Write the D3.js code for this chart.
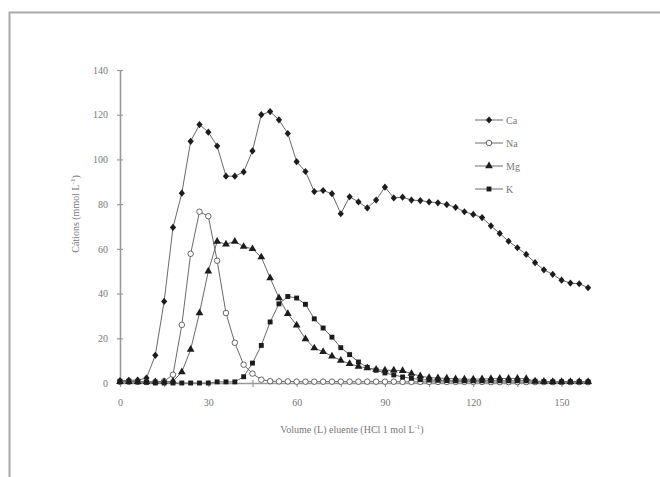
<!DOCTYPE html>
<html><head><meta charset="utf-8">
<script src="https://cdn.jsdelivr.net/npm/d3@7"></script>
<style>body{margin:0;background:#fff}svg{display:block}</style>
</head><body>
<svg id="c" width="660" height="477"></svg>
<script>
const volume = [0,3,6,9,12,15,18,21,24,27,30,33,36,39,42,45,48,51,54,57,60,63,66,69,72,75,78,81,84,87,90,93,96,99,102,105,108,111,114,117,120,123,126,129,132,135,138,141,144,147,150,153,156,159];
const ca = [1,1.2,1.3,2.2,12.4,36.5,69.6,84.9,108.1,115.6,112.2,106,92.5,92.5,94.4,103.8,120,121.4,117.7,111.6,99,94.6,85.6,86.1,84.7,75.7,83.3,81,78.3,81.8,87.6,82.8,83.1,81.8,81.6,81,80.6,79.8,78.6,76.6,75.4,74,70.3,66.9,63.4,60.5,57.5,53.8,50.6,48.6,46,44.7,44.4,42.6];
const na = [0.5,0.5,0.5,0.5,0.5,0.8,3.7,26,57.8,76.6,74.6,54.7,31.3,18,8.2,4.2,1.5,0.8,0.7,0.7,0.6,0.6,0.6,0.6,0.6,0.6,0.6,0.6,0.6,0.6,0.6,0.6,0.5,0.5,0.5,0.5,0.5,0.5,0.5,0.5,0.5,0.5,0.4,0.4,0.4,0.4,0.4,0.4,0.4,0.4,0.4,0.4,0.4,0.4];
const mg = [0.5,0.5,0.5,0.5,0.5,0.5,0.8,4.9,15,31.3,50,63.3,62.1,63.3,61,60,56.3,47,38,31,25.8,19.7,15.6,14,12,10.1,8.6,7.4,6.7,6,5.7,5.7,5.5,4.2,3.1,2.4,2.2,2.1,1.8,1.7,1.7,1.8,1.9,2,2,2,1.9,0.8,0.7,0.6,0.6,0.6,0.6,0.6];
const k = [0.8,0.8,0.5,0.3,0,0,0,0,0,0,0,0.5,0.5,0.5,2.8,8.9,16.8,27.3,35.4,38.7,38,35.2,28.7,24.6,20.5,15.8,12.7,9.4,7,5.7,4.5,3.6,2.7,2.1,1.5,1.3,1.2,1.1,1,1,1,1,1,1,1,1,1,0.8,0.6,0.5,0.5,0.5,0.5,0.5];
const seriesNames = ["Ca","Na","Mg","K"];
const xTicks = [0,15,30,45,60,75,90,105,120,135,150];
const xLabels = [0,30,60,90,120,150];
const yTicks = [0,20,40,60,80,100,120,140];

const svg = d3.select("#c");
const font = "'Liberation Serif','DejaVu Serif',serif";
const axisCol = "#9a9a9a", textCol = "#777", lineCol = "#6a6a6a", markCol = "#1c1c1c";

// frame
svg.append("path").attr("d","M9.5,477 L9.5,12.5 L660,12.5").attr("fill","none").attr("stroke","#aaa").attr("stroke-width",2);

const x = d3.scaleLinear().domain([0,160]).range([120,591]);
const y = d3.scaleLinear().domain([0,140]).range([383,70]);

// axes
const gx = svg.append("g").attr("transform","translate(0,383)")
  .call(d3.axisBottom(x).tickValues(xTicks).tickSizeInner(4).tickSizeOuter(0).tickFormat(d=>xLabels.includes(d)?d:""));
gx.selectAll(".tick line").attr("y1",-3).attr("y2",4);
const gy = svg.append("g").attr("transform","translate(120,0)")
  .call(d3.axisLeft(y).tickValues(yTicks).tickSizeInner(3).tickSizeOuter(0));
gy.selectAll(".tick line").attr("x2",3).attr("x1",-3);
[gx,gy].forEach(g=>{
  g.select(".domain").attr("stroke",axisCol).attr("stroke-width",1.6);
  g.selectAll(".tick line").attr("stroke",axisCol).attr("stroke-width",1.2);
  g.selectAll("text").attr("fill",textCol).style("font-family",font).style("font-size","10px");
});
gx.selectAll("text").attr("dy","1.6em");
gy.selectAll("text").attr("dx","-6");

// titles
const yt = svg.append("text").attr("transform","translate(79,214) rotate(-90)").attr("text-anchor","middle")
  .attr("fill",textCol).style("font-family",font).style("font-size","10px");
yt.append("tspan").text("Cátions (mmol L");
yt.append("tspan").attr("dy",-4).style("font-size","7px").text("-1");
yt.append("tspan").attr("dy",4).text(")");
const xt = svg.append("text").attr("x",352).attr("y",433).attr("text-anchor","middle")
  .attr("fill",textCol).style("font-family",font).style("font-size","10px");
xt.append("tspan").text("Volume (L) eluente (HCl 1 mol L");
xt.append("tspan").attr("dy",-4).style("font-size","7px").text("-1");
xt.append("tspan").attr("dy",4).text(")");

const data = [ca,na,mg,k];
const shapes = [d3.symbolDiamond, d3.symbolCircle, d3.symbolTriangle, d3.symbolSquare];
const sizes = [15, 24, 26, 24];
const line = d3.line().x((d,i)=>x(volume[i])).y(d=>y(d));

function marker(g, s){
  const p = g.append("path").attr("d", d3.symbol().type(shapes[s]).size(sizes[s])());
  if (s===1) p.attr("fill","#fff").attr("stroke","#555").attr("stroke-width",0.9);
  else p.attr("fill",markCol);
  if (s===0) p.attr("transform","scale(1.5,1)");
  return p;
}

data.forEach((vals,s)=>{
  svg.append("path").attr("d",line(vals)).attr("fill","none").attr("stroke",lineCol).attr("stroke-width",1);
  const g = svg.append("g");
  vals.forEach((v,i)=>{
    const m = g.append("g").attr("transform",`translate(${x(volume[i])},${y(v)})`);
    marker(m,s);
  });
});

// legend
const legY = [120,143,166,189];
seriesNames.forEach((n,s)=>{
  const g = svg.append("g").attr("transform",`translate(475,${legY[s]})`);
  g.append("line").attr("x1",0).attr("x2",28).attr("stroke",lineCol).attr("stroke-width",1);
  const m = g.append("g").attr("transform","translate(14,0)");
  marker(m,s);
  g.append("text").attr("x",31).attr("y",3.5).attr("fill",textCol).style("font-family",font).style("font-size","10px").text(n);
});
</script>
</body></html>
